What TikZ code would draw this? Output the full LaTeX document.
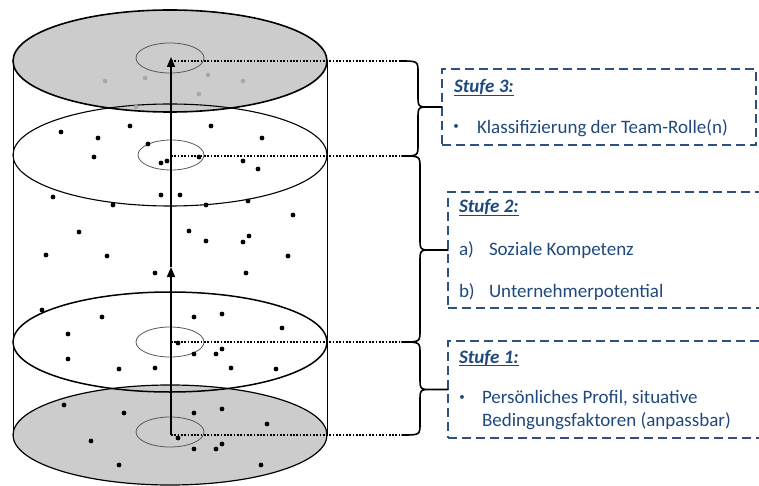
\documentclass[tikz,border=0pt]{standalone}
\usepackage{fontspec}
\setmainfont{Carlito}
\usetikzlibrary{arrows.meta,calc}

\definecolor{discgray}{RGB}{204,204,204}
\definecolor{fadedot}{RGB}{168,168,168}
\definecolor{boxblue}{RGB}{46,80,128}
\definecolor{textblue}{RGB}{31,73,125}

% underlined heading: rule sits just below the baseline
\newcommand\stufeline[1]{\setbox0\hbox{#1}\rlap{\rule[-3.4pt]{\wd0}{1.3pt}}\box0}

% curly brace from a top end to a bottom end, with its tip on a target
\newcommand\stufebrace[3]{%
  \draw[bracestyle] let \p1=(#1), \p2=(#2), \p3=(#3) in
    (\p1) .. controls (\x1+18pt,\y1) .. (\x1+18pt,\y1-12pt)
    -- (\x1+18pt,\y3+12pt) .. controls (\x1+18pt,\y3) .. (\x1+30pt,\y3) -- (\p3)
    (\x1+30pt,\y3) .. controls (\x1+18pt,\y3) .. (\x1+18pt,\y3-12pt)
    -- (\x1+18pt,\y2+12pt) .. controls (\x1+18pt,\y2) .. (\p2);}

\begin{document}
\begin{tikzpicture}[x=1pt,y=-1pt,
  bracestyle/.style={line width=1.6pt,line cap=round},
  leader/.style={line width=1.8pt,dash pattern=on 1.7pt off 1.6pt},
  core/.style={draw=black!65,line width=0.8pt},
  stufebox/.style={draw=boxblue,line width=1.4pt,dash pattern=on 9pt off 5pt,
    inner sep=0pt,outer sep=0pt},
  txt/.style={anchor=base west,inner sep=0pt,outer sep=0pt,text=textblue,
    font=\fontsize{19}{23}\selectfont},
  head/.style={txt,font=\fontsize{19}{23}\selectfont\bfseries\itshape},
  bul/.style={anchor=center,inner sep=0pt,outer sep=0pt,text=textblue,
    font=\fontsize{11}{11}\selectfont},
  arrowline/.style={line width=1.5pt,-{Triangle[length=10pt,width=8pt]}}]

\useasboundingbox (0,0) rectangle (759,486);
\clip (0,0) rectangle (759,486);

% level centres on the axis of the cylinder
\coordinate (lvl3) at (171,61);
\coordinate (lvl2) at (171,156);
\coordinate (lvl1) at (171,342);
\coordinate (lvl0) at (171,435);
\coordinate (mid)  at (171,267);
\coordinate (apex) at (171,57);

% shaded top and bottom discs
\fill[discgray] (170,61) ellipse [x radius=157pt, y radius=51pt];
\fill[discgray] (170,435) ellipse [x radius=157pt, y radius=50pt];

% cylinder walls
\draw[line width=1pt] (13,61) -- (13,435);
\draw[line width=1pt] (327,61) -- (327,435);

% disc outlines
\draw[line width=1.6pt] (170,61) ellipse [x radius=157pt, y radius=51pt];
\draw[line width=1.1pt] (170,155) ellipse [x radius=157pt, y radius=51pt];
\draw[line width=1.5pt] (170,342) ellipse [x radius=157pt, y radius=50pt];
\draw[line width=1.2pt] (170,435) ellipse [x radius=157pt, y radius=50pt];

% inner core rings
\draw[core] (170,58) ellipse [x radius=34pt, y radius=15pt];
\draw[core] (171,155) ellipse [x radius=33pt, y radius=15pt];
\draw[core] (170,342) ellipse [x radius=34pt, y radius=15pt];
\draw[core] (170,432) ellipse [x radius=34pt, y radius=15pt];

% faded points on the top disc
\foreach \p in {(105,81),(145,78),(208,75),(243,81),(199,94),(136,107)}
  \fill[fadedot] \p circle (2.3pt);

% points inside the cylinder
\foreach \p in {(61,132),(130,126),(211,126),(98,138),(262,138),(148,144),
  (94,157),(161,163),(167,161),(199,157),(243,161),(258,169),
  (53,197),(161,195),(180,195),(113,205),(206,205),(248,201),(293,215),
  (79,232),(189,231),(206,241),(243,242),(249,236),(46,255),(107,256),
  (288,256),(155,273),(246,273),
  (42,310),(102,317),(194,317),(222,314),(282,328),(68,334),(178,343),
  (68,359),(194,354),(216,354),(222,349),(119,369),(155,368),(231,368),
  (276,369),
  (64,405),(124,413),(194,413),(222,409),(267,424),(91,441),(178,438),
  (194,449),(216,449),(222,444),(119,465),(261,465)}
  \fill[black] \p circle (2.4pt);

% axis arrows
\draw[arrowline] (lvl0) -- (mid);
\draw[arrowline] (mid) -- (apex);

% brace ends
\coordinate (e3) at (400,61);
\coordinate (e2) at (402,156);
\coordinate (e1) at (402,342);
\coordinate (e0) at (402,435);

% dotted leaders
\draw[leader] (lvl3) -- (e3);
\draw[leader] (lvl2) -- (e2);
\draw[leader] (lvl1) -- (e1);
\draw[leader] (lvl0) -- (e0);

% stage boxes
\node[stufebox,minimum width=314pt,minimum height=76pt] (box3) at (599,107) {};
\node[stufebox,minimum width=352pt,minimum height=116pt] (box2) at (624,250) {};
\node[stufebox,minimum width=352pt,minimum height=97pt] (box1) at (624,389.5) {};

% braces
\stufebrace{e3}{e2}{box3.west}
\stufebrace{e2}{e1}{box2.west}
\stufebrace{e1}{e0}{box1.west}

% stage 3 text
\node[head] (h3) at (454,93) {\stufeline{Stufe 3:}};
\node[bul] (b3) at (456,127) {•};
\node[txt] (t3) at (477,134) {Klassifizierung der Team-Rolle(n)};

% stage 2 text
\node[head] (h2) at (459,213) {\stufeline{Stufe 2:}};
\node[txt] (la) at (459,255) {a)};
\node[txt] (ta) at (489,255) {Soziale Kompetenz};
\node[txt] (lb) at (459,297) {b)};
\node[txt] (tb) at (489,297) {Unternehmerpotential};

% stage 1 text
\node[head] (h1) at (459,363) {\stufeline{Stufe 1:}};
\node[bul] (b1) at (462,398) {•};
\node[txt] (t1a) at (482,403) {Persönliches Profil, situative};
\node[txt] (t1b) at (482,426) {Bedingungsfaktoren (anpassbar)};

\end{tikzpicture}
\end{document}
